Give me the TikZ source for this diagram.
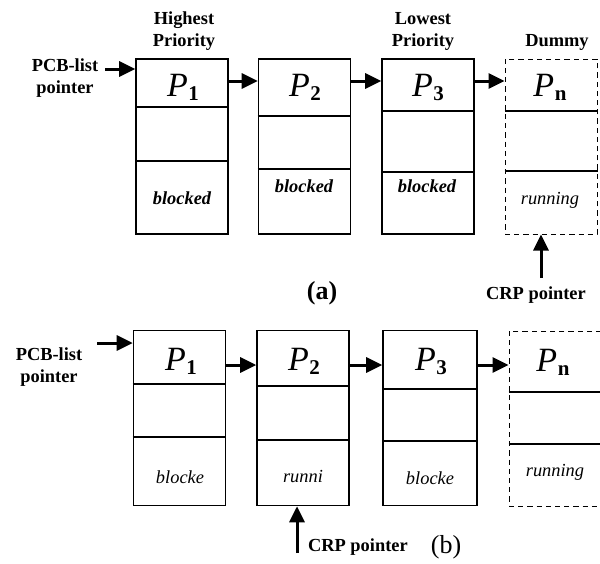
\documentclass[tikz,border=0pt]{standalone}
\usepackage{fontspec}
\setmainfont{Liberation Serif}
\usetikzlibrary{arrows.meta}

% process name with a lowered bold index
\newcommand{\pcbname}[1]{\textit{P}\kern0.3pt\raisebox{-2pt}{\fontsize{10.5}{10.5}\selectfont\bfseries #1}}

\tikzset{
  pcbbox/.style={draw, line width=0.8pt, minimum width=46pt, minimum height=87.5pt, inner sep=0pt},
  dummybox/.style={pcbbox, dash pattern=on 2.6pt off 2pt, line width=0.5pt},
  divider/.style={line width=0.8pt},
  ptr/.style={-{Triangle[length=8pt,width=7.5pt]}, line width=1.5pt},
  lbl/.style={font=\fontsize{9.2}{11}\selectfont\bfseries, align=center},
  state/.style={font=\fontsize{9.2}{10}\selectfont\itshape},
  pname/.style={font=\fontsize{17}{17}\selectfont},
  tag/.style={font=\fontsize{13}{13}\selectfont\bfseries},
}

\begin{document}
\begin{tikzpicture}[x=0.5pt, y=-0.5pt]
\useasboundingbox (0,0) rectangle (600,563);

% ---- (a) ----
\node [pcbbox] (A1) at (182,146.5) {};
\node [pcbbox] (A2) at (304.5,146.5) {};
\node [pcbbox] (A3) at (428,146.5) {};
\node [dummybox] (An) at (551,146.5) {};
\draw [divider] (A1.west |- 0,107) -- (A1.east |- 0,107);
\draw [divider] (A1.west |- 0,161) -- (A1.east |- 0,161);
\draw [divider] (A2.west |- 0,116) -- (A2.east |- 0,116);
\draw [divider] (A2.west |- 0,169) -- (A2.east |- 0,169);
\draw [divider] (A3.west |- 0,111) -- (A3.east |- 0,111);
\draw [divider] (A3.west |- 0,172) -- (A3.east |- 0,172);
\draw [divider] (An.west |- 0,111) -- (An.east |- 0,111);
\draw [divider] (An.west |- 0,171) -- (An.east |- 0,171);

\node [pname] (A1p) at (183,87) {\pcbname{1}};
\node [pname] (A2p) at (305,87) {\pcbname{2}};
\node [pname] (A3p) at (428,87) {\pcbname{3}};
\node [pname] (Anp) at (550,87) {\pcbname{n}};
\node [state, font=\fontsize{9.2}{10}\selectfont\bfseries\itshape] (A1s) at (182,198) {blocked};
\node [state, font=\fontsize{9.2}{10}\selectfont\bfseries\itshape] (A2s) at (304,186) {blocked};
\node [state, font=\fontsize{9.2}{10}\selectfont\bfseries\itshape] (A3s) at (427,186) {blocked};
\node [state] (Ans) at (550,200) {running};

\node [lbl] (hi) at (184,31) {Highest\\Priority};
\node [lbl] (lo) at (423,31) {Lowest\\Priority};
\node [lbl] (dum) at (557,42) {Dummy};
\node [lbl] (pcbA) at (65,78) {PCB-list\\pointer};
\node [lbl] (crpA) at (536,295) {CRP pointer};
\node [tag] (tagA) at (322,293) {(a)};

\draw [ptr] (pcbA.east |- 0,69) -- (A1.west |- 0,69);
\draw [ptr] (A1.east |- 0,81) -- (A2.west |- 0,81);
\draw [ptr] (A2.east |- 0,81) -- (A3.west |- 0,81);
\draw [ptr] (A3.east |- 0,81) -- (An.west |- 0,81);
\draw [ptr] (541,278) -- (541,0 |- An.south);

% ---- (b) ----
\node [pcbbox] (B1) at (179.5,418) {};
\node [pcbbox] (B2) at (303,418) {};
\node [pcbbox, minimum width=47pt] (B3) at (430,418) {};
\node [dummybox] (Bn) at (555,418.5) {};
\draw [divider] (B1.west |- 0,384) -- (B1.east |- 0,384);
\draw [divider] (B1.west |- 0,437) -- (B1.east |- 0,437);
\draw [divider] (B2.west |- 0,386) -- (B2.east |- 0,386);
\draw [divider] (B2.west |- 0,440) -- (B2.east |- 0,440);
\draw [divider] (B3.west |- 0,389) -- (B3.east |- 0,389);
\draw [divider] (B3.west |- 0,441) -- (B3.east |- 0,441);
\draw [divider] (Bn.west |- 0,392) -- (Bn.east |- 0,392);
\draw [divider] (Bn.west |- 0,444) -- (Bn.east |- 0,444);

\node [pname] (B1p) at (181,361) {\pcbname{1}};
\node [pname] (B2p) at (304,361) {\pcbname{2}};
\node [pname] (B3p) at (431,361) {\pcbname{3}};
\node [pname] (Bnp) at (553,362) {\pcbname{n}};
\node [state] (B1s) at (180,477) {blocke};
\node [state] (B2s) at (303,477) {runni};
\node [state] (B3s) at (430,478) {blocke};
\node [state] (Bns) at (555,472) {running};

\node [lbl] (pcbB) at (49,367) {PCB-list\\pointer};
\node [lbl, anchor=west] (crpB) at (301,547) {CRP pointer};
\node [tag, font=\fontsize{13}{13}\selectfont] (tagB) at (446,547) {(b)};

\draw [ptr] (97,343) -- (B1.west |- 0,343);
\draw [ptr] (B1.east |- 0,365) -- (B2.west |- 0,365);
\draw [ptr] (B2.east |- 0,365) -- (B3.west |- 0,365);
\draw [ptr] (B3.east |- 0,365) -- (Bn.west |- 0,365);
\draw [ptr] (297,553) -- (297,0 |- B2.south);
\end{tikzpicture}
\end{document}
